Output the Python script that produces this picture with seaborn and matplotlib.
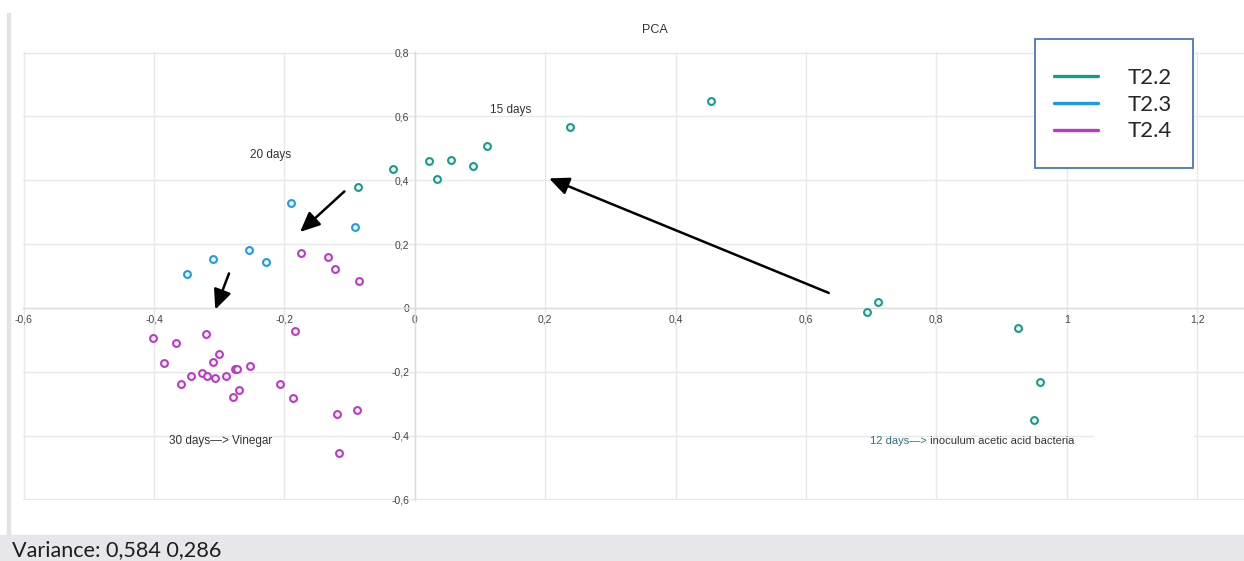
import numpy as np
import pandas as pd
import seaborn as sns
import matplotlib.pyplot as plt
from matplotlib.lines import Line2D
from matplotlib.patches import Rectangle

# PCA scores (PC1, PC2) per sampling series
t22_x = [-0.087, -0.034, 0.022, 0.034, 0.055, 0.089, 0.111, 0.238, 0.455,
         0.693, 0.711, 0.925, 0.959, 0.950]
t22_y = [0.378, 0.436, 0.461, 0.403, 0.463, 0.445, 0.507, 0.568, 0.647,
         -0.013, 0.019, -0.063, -0.233, -0.352]

t23_x = [-0.350, -0.310, -0.254, -0.229, -0.190, -0.092]
t23_y = [0.106, 0.154, 0.180, 0.145, 0.329, 0.253]

t24_x = [-0.174, -0.133, -0.122, -0.086, -0.402, -0.366, -0.320, -0.183,
         -0.385, -0.300, -0.309, -0.358, -0.343, -0.327, -0.319, -0.307,
         -0.289, -0.276, -0.273, -0.253, -0.269, -0.279, -0.206, -0.187,
         -0.120, -0.089, -0.116]
t24_y = [0.172, 0.161, 0.121, 0.085, -0.095, -0.111, -0.081, -0.073,
         -0.173, -0.145, -0.169, -0.238, -0.214, -0.205, -0.214, -0.219,
         -0.214, -0.192, -0.192, -0.182, -0.258, -0.280, -0.239, -0.283,
         -0.332, -0.321, -0.455]

series = ["T2.2", "T2.3", "T2.4"]
colors = ["#159c88", "#1c9be4", "#bb38c8"]

x_ticks = [-0.6, -0.4, -0.2, 0.0, 0.2, 0.4, 0.6, 0.8, 1.0, 1.2]
x_tick_labels = ["-0,6", "-0,4", "-0,2", "0", "0,2", "0,4", "0,6", "0,8", "1", "1,2"]
y_ticks = [-0.6, -0.4, -0.2, 0.0, 0.2, 0.4, 0.6, 0.8]
y_tick_labels = ["-0,6", "-0,4", "-0,2", "0", "0,2", "0,4", "0,6", "0,8"]

variance_text = "Variance: 0,584 0,286"

df = pd.concat([
    pd.DataFrame({"pc1": t22_x, "pc2": t22_y, "series": "T2.2"}),
    pd.DataFrame({"pc1": t23_x, "pc2": t23_y, "series": "T2.3"}),
    pd.DataFrame({"pc1": t24_x, "pc2": t24_y, "series": "T2.4"}),
], ignore_index=True)

sns.set_theme(style="white")
plt.rcParams["font.family"] = ["Liberation Sans", "DejaVu Sans"]

W, H = 1244, 561
fig = plt.figure(figsize=(W / 100, H / 100), dpi=100)
fig.patch.set_facecolor("white")
ax = fig.add_axes([23 / W, 1 - 500 / H, 1221 / W, 448 / H])

# hollow circle markers, one call per series
for name, col in zip(series, colors):
    sub = df[df["series"] == name]
    sns.scatterplot(data=sub, x="pc1", y="pc2", ax=ax, s=24,
                    facecolor="white", edgecolor=col, linewidth=1.5,
                    zorder=3, legend=False)

ax.set_xlim(-0.601, 1.272)
ax.set_ylim(-0.602, 0.802)
ax.set_xticks(x_ticks)
ax.set_xticklabels(x_tick_labels)
ax.set_yticks(y_ticks)
ax.set_yticklabels(y_tick_labels)
ax.set_xlabel("")
ax.set_ylabel("")
ax.grid(True, color="#e8e8e8", lw=1)
ax.set_axisbelow(True)

# axes cross at the origin
for side in ["top", "right"]:
    ax.spines[side].set_visible(False)
ax.spines["left"].set_position(("data", 0))
ax.spines["bottom"].set_position(("data", 0))
ax.spines["left"].set_color("#dcdcdc")
ax.spines["bottom"].set_color("#dcdcdc")
ax.spines["left"].set_linewidth(1)
ax.spines["bottom"].set_linewidth(1)
ax.tick_params(axis="both", length=0, labelsize=7.5, colors="#444444")
ax.tick_params(axis="x", pad=5)
ax.tick_params(axis="y", pad=4)

# arrows showing the time course
arrow_kw = dict(arrowstyle="-|>,head_length=1.0,head_width=0.45",
                color="black", lw=1.8, shrinkA=0, shrinkB=0)
ax.annotate("", xy=(0.206, 0.406), xytext=(0.635, 0.047), arrowprops=arrow_kw)
ax.annotate("", xy=(-0.176, 0.238), xytext=(-0.108, 0.365), arrowprops=arrow_kw)
ax.annotate("", xy=(-0.306, -0.005), xytext=(-0.285, 0.108), arrowprops=arrow_kw)

txt = dict(ha="center", va="center", fontsize=8.5, color="#333333")
ax.text(0.147, 0.619, "15 days", **txt)
ax.text(-0.222, 0.478, "20 days", **txt)
ax.text(-0.298, -0.416, "30 days\u2014> Vinegar", **txt)

t12 = ax.text(0.699, -0.416, "12 days\u2014>", ha="left", va="center",
              fontsize=8.0, color="#2b6f80")
ax.annotate(" inoculum acetic acid bacteria", xy=(1, 0), xycoords=t12,
            ha="left", va="bottom", fontsize=8.0, color="#333333")

fig.text(655 / W, 1 - 30 / H, "PCA", ha="center", va="center",
         fontsize=9, color="#333333")

# white backing behind the annotation's trailing area
fig.add_artist(Rectangle((1094 / W, 1 - 439 / H), 100 / W, 6 / H,
                         transform=fig.transFigure, facecolor="white",
                         edgecolor="none", zorder=1))

# legend box drawn as its own rectangle around the entries
fig.add_artist(Rectangle((1035 / W, 1 - 168 / H), 158 / W, 129 / H,
                         transform=fig.transFigure, facecolor="white",
                         edgecolor="#4a76b8", linewidth=1.3, zorder=4))
handles = [Line2D([], [], color=c, lw=2.4) for c in colors]
leg = fig.legend(handles, series, loc="upper left",
                 bbox_to_anchor=(1054 / W, 1 - 68 / H), borderaxespad=0,
                 frameon=False, prop=dict(family="Lato", size=16),
                 handlelength=2.0, handletextpad=1.3, labelspacing=0.3,
                 borderpad=0)
leg.set_zorder(5)

# page furniture: left rule and bottom status band
fig.add_artist(Rectangle((7 / W, 26 / H), 3 / W, (535 - 13) / H,
                         transform=fig.transFigure, color="#e3e3e3", zorder=0))
fig.add_artist(Rectangle((0, 0), 1, 26 / H, transform=fig.transFigure,
                         color="#e7e7eb", zorder=0))
fig.text(12 / W, 1 - 550 / H, variance_text, ha="left", va="center",
         family="Lato", fontsize=15.6, color="#1e1e1e")

fig.savefig("out.png", dpi=100)
